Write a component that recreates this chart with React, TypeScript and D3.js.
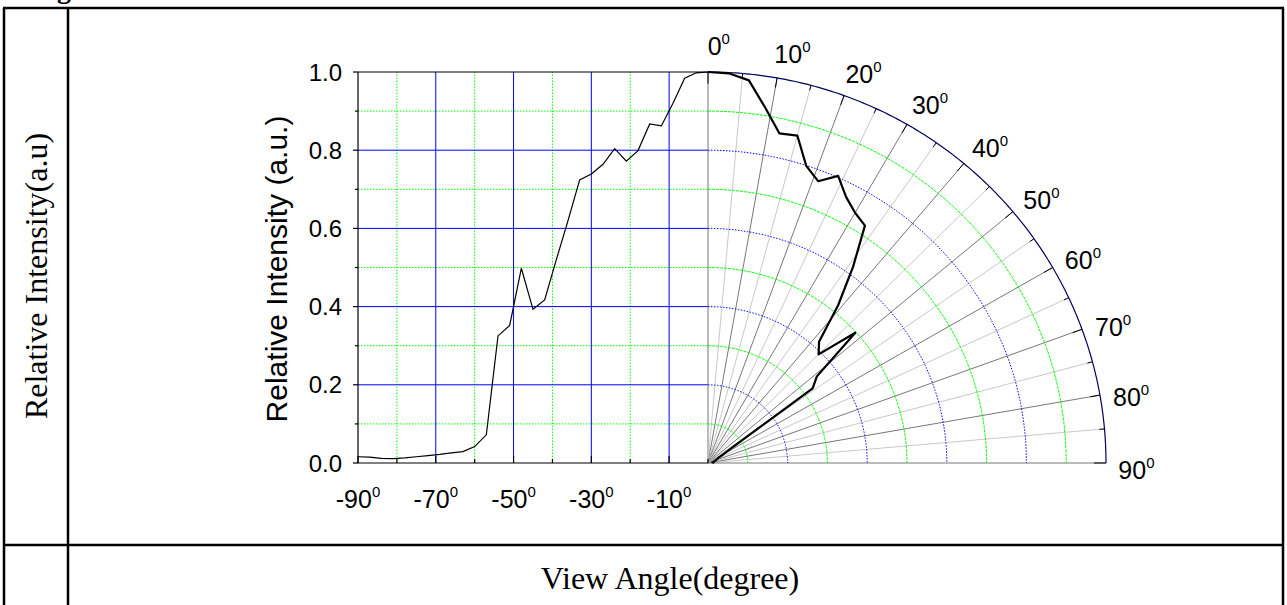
import * as d3 from 'd3'

// view angle (deg) and measured relative intensity; left half is the same data mirrored
const angles = [0, 3, 6, 9, 12, 15, 18, 21, 24, 27, 30, 33, 36, 39, 42, 45, 48, 51, 54, 57, 60, 63, 66, 69, 72, 75, 78, 81, 84, 87, 90]
const intensity = [1.0, 0.998, 0.984, 0.92, 0.862, 0.867, 0.799, 0.772, 0.804, 0.764, 0.739, 0.724, 0.62, 0.52, 0.417, 0.393, 0.498, 0.352, 0.325, 0.072, 0.042, 0.029, 0.026, 0.022, 0.019, 0.016, 0.013, 0.011, 0.012, 0.015, 0.016]

const yMajor = [0, 0.2, 0.4, 0.6, 0.8, 1.0]
const yMinor = [0.1, 0.3, 0.5, 0.7, 0.9]
const xMajor = [-90, -70, -50, -30, -10]
const xMinor = [-80, -60, -40, -20, 0]
const xGridBlue = [-70, -50, -30, -10]
const xGridGreen = [-80, -60, -40, -20]
const yGridBlue = [0.2, 0.4, 0.6, 0.8]
const yGridGreen = [0.1, 0.3, 0.5, 0.7, 0.9]
const polarLabels = [0, 10, 20, 30, 40, 50, 60, 70, 80, 90]
const spokes = [0, 5, 10, 15, 20, 25, 30, 35, 40, 45, 50, 55, 60, 65, 70, 75, 80, 85, 90]
const rings = [0.1, 0.2, 0.3, 0.4, 0.5, 0.6, 0.7, 0.8, 0.9]

const W = 1287
const H = 605
const sans = 'Liberation Sans, Arial, sans-serif'
const serif = 'Liberation Serif, Times New Roman, serif'

export default function App() {
  const x = d3.scaleLinear().domain([-90, 0]).range([358, 708])
  const y = d3.scaleLinear().domain([0, 1]).range([463, 72])
  const cx = x(0)
  const cy = y(0)
  const rX = d3.scaleLinear().domain([0, 1]).range([0, 398])
  const rY = d3.scaleLinear().domain([0, 1]).range([0, 391])
  const pt = (a: number, r: number): [number, number] => {
    const t = (a * Math.PI) / 180
    return [cx + rX(r) * Math.sin(t), cy - rY(r) * Math.cos(t)]
  }
  const line = d3.line<[number, number]>()
  const ringPath = (r: number) => line(d3.range(0, 90.01, 0.5).map(a => pt(a, r))) ?? ''

  const cartPath = d3.line<number>()
    .x((_, i) => x(-angles[i]))
    .y(d => y(d))(intensity) ?? ''
  const polarPath = line(intensity.map((d, i) => pt(angles[i], d))) ?? ''

  return (
    <svg width={W} height={H} style={{ position: 'absolute', left: 0, top: 0, background: '#fff' }}>
      {/* table frame */}
      <text x={71} y={-2} textAnchor='end' fontFamily={serif} fontWeight='bold' fontSize={28}>Fig</text>
      <g stroke='#000' strokeWidth={2.5}>
        <line x1={4} x2={4} y1={8} y2={H} />
        <line x1={68} x2={68} y1={8} y2={H} />
        <line x1={1283} x2={1283} y1={8} y2={H} />
        <line x1={3} x2={1284} y1={8} y2={8} />
        <line x1={3} x2={1284} y1={545} y2={545} />
      </g>
      <text transform='translate(47,276) rotate(-90)' textAnchor='middle' fontFamily={serif} fontSize={32}>Relative Intensity(a.u)</text>
      <text x={670} y={589} textAnchor='middle' fontFamily={serif} fontSize={32}>View Angle(degree)</text>

      {/* cartesian grid */}
      {yGridGreen.map(v => (
        <line key={'hg' + v} x1={x(-90)} x2={x(0)} y1={y(v)} y2={y(v)} stroke='#00ff00' strokeWidth={1} strokeDasharray='1.5,1.5' />
      ))}
      {xGridGreen.map(v => (
        <line key={'vg' + v} x1={x(v)} x2={x(v)} y1={y(0)} y2={y(1)} stroke='#00ff00' strokeWidth={1} strokeDasharray='1.5,1.5' />
      ))}
      {yGridBlue.map(v => (
        <line key={'hb' + v} x1={x(-90)} x2={x(0)} y1={y(v)} y2={y(v)} stroke='#0000ff' strokeWidth={1} />
      ))}
      {xGridBlue.map(v => (
        <line key={'vb' + v} x1={x(v)} x2={x(v)} y1={y(0)} y2={y(1)} stroke='#0000ff' strokeWidth={1} />
      ))}

      {/* polar grid */}
      {spokes.map(a => {
        const [x2, y2] = pt(a, 1)
        const dark = a % 10 === 0
        return <line key={'sp' + a} x1={cx} y1={cy} x2={x2} y2={y2} stroke={dark ? '#777' : '#c8c8c8'} strokeWidth={1} />
      })}
      {rings.map((r, i) => (
        <path key={'rg' + r} d={ringPath(r)} fill='none'
          stroke={i % 2 === 0 ? '#00ff00' : '#0000ff'} strokeWidth={1}
          strokeDasharray={i % 2 === 0 ? '3,1' : '1.5,1.5'} />
      ))}
      <path d={ringPath(1)} fill='none' stroke='#000060' strokeWidth={1.2} />
      {spokes.map(a => {
        const len = a % 10 === 0 ? (a === 0 || a === 90 ? 0.03 : 0.025) : 0.013
        const [x1, y1] = pt(a, 1)
        const [x2, y2] = pt(a, 1 - len)
        return <line key={'tk' + a} x1={x1} y1={y1} x2={x2} y2={y2} stroke='#000' strokeWidth={1} />
      })}
      {polarLabels.map(a => {
        const [lx, ly] = pt(a + 0.9, 1.066)
        const digitsW = String(a).length * 0.556 * 25
        return (
          <text key={'pl' + a} x={lx - digitsW / 2} y={ly + 9} fontFamily={sans} fontSize={25}>
            {a}<tspan fontSize={15} dy={-11}>0</tspan>
          </text>
        )
      })}

      {/* cartesian axes */}
      <g stroke='#000' strokeWidth={1.2}>
        <line x1={x(-90)} x2={x(-90)} y1={y(0)} y2={y(1)} />
        <line x1={x(-90)} x2={x(0)} y1={y(0)} y2={y(0)} />
        <line x1={x(-90)} x2={x(0)} y1={y(1)} y2={y(1)} />
        {yMajor.map(v => <line key={'ym' + v} x1={x(-90) - 5} x2={x(-90)} y1={y(v)} y2={y(v)} />)}
        {yMinor.map(v => <line key={'yn' + v} x1={x(-90) - 3} x2={x(-90)} y1={y(v)} y2={y(v)} />)}
        {xMajor.map(v => <line key={'xm' + v} x1={x(v)} x2={x(v)} y1={y(0)} y2={y(0) - 7} />)}
        {xMinor.map(v => <line key={'xn' + v} x1={x(v)} x2={x(v)} y1={y(0)} y2={y(0) - 4} />)}
      </g>
      {yMajor.map(v => (
        <text key={'yl' + v} x={342} y={y(v) + 8.5} textAnchor='end' fontFamily={sans} fontSize={24}>{v.toFixed(1)}</text>
      ))}
      {xMajor.map(v => (
        <text key={'xl' + v} x={x(v)} y={508} textAnchor='middle' fontFamily={sans} fontSize={25}>
          {v}<tspan fontSize={15} dy={-11}>0</tspan>
        </text>
      ))}
      <text transform='translate(287,269) rotate(-90)' textAnchor='middle' fontFamily={sans} fontSize={30}>Relative Intensity (a.u.)</text>

      {/* data */}
      <path d={cartPath} fill='none' stroke='#000' strokeWidth={1.2} />
      <path d={polarPath} fill='none' stroke='#000' strokeWidth={2.2} strokeLinejoin='round' />
    </svg>
  )
}
